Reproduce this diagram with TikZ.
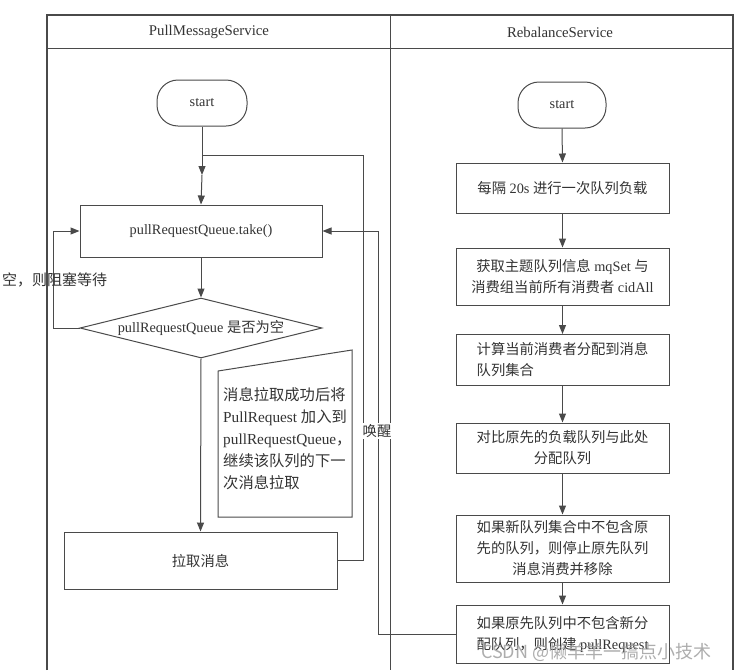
\documentclass[tikz,border=0pt]{standalone}
\usepackage{fontspec}
\setmainfont{Liberation Serif}
\newfontfamily\cjkf{Noto Sans CJK SC}
\usetikzlibrary{arrows.meta,shapes.geometric,calc}
\newcommand\zhc[1]{{\cjkf #1}}
\definecolor{lc}{HTML}{4A4A4A}
\definecolor{tx}{HTML}{333333}
\begin{document}
\begin{tikzpicture}[x=1pt,y=-1pt,
  every node/.style={text=tx, font=\fontsize{14.3}{21}\selectfont},
  plain/.style={draw=lc, line width=1pt},
  box/.style={plain, inner sep=0pt, align=center},
  startbox/.style={box, rounded corners=21pt, minimum width=90pt, minimum height=46pt},
  rbox/.style={box, minimum width=213pt},
  arr/.style={plain, -{Triangle[length=9pt,width=7pt]}}]
\useasboundingbox (0,0) rectangle (739,670);
% frame
\draw[plain, line width=1.2pt] (47,670) -- (47,15) -- (733,15) -- (733,670);
\draw[plain] (47,48) -- (733,48);
\draw[plain] (390,15) -- (390,670);
\node[font=\fontsize{14.8}{18}\selectfont] (h1) at (209,32) {PullMessageService};
\node[font=\fontsize{14.8}{18}\selectfont] (h2) at (560,32) {RebalanceService};
% left column
\node[startbox] (sL) at (202,103) {start};
\node[box, minimum width=242pt, minimum height=52pt] (take) at (201,231) {pullRequestQueue.take()};
\node[box, diamond, aspect=4, minimum width=242pt, minimum height=60pt] (dia) at (201,328) {pullRequestQueue \zhc{是否为空}};
\node[box, minimum width=273pt, minimum height=57pt] (pull) at (200.5,560.5) {\zhc{拉取消息}};
% note
\draw[plain] (218,371) -- (352,350) -- (352,517) -- (218,517) -- cycle;
\node[anchor=north west, align=left, inner sep=0pt, font=\fontsize{15.3}{22}\selectfont] (notetxt) at (223,387)
  {\zhc{消息拉取成功后将}\\PullRequest \zhc{加入到}\\pullRequestQueue\zhc{，}\\\zhc{继续该队列的下一}\\\zhc{次消息拉取}};
% left connectors
\coordinate (j1) at (202,155);
\coordinate (m1) at (202,175);
\coordinate (r1) at (363,155);
\coordinate (l1) at (53,231);
\coordinate (w1) at (378,231);
\draw[arr] (sL.south) -- (m1);
\draw[arr] (m1) -- (take.north);
\draw[plain] (pull.east) -| (r1) -- (j1);
\draw[arr] (take.south) -- (dia.north);
\draw[arr] (dia.south) -- (pull.north);
\draw[arr] (dia.west) -| (l1) -- (take.west);
\node[anchor=west, inner sep=0pt, font=\fontsize{15}{18}\selectfont] (emp) at (2,280) {\zhc{空，则阻塞等待}};
% right column
\node[startbox, minimum width=88pt] (sR) at (562,105) {start};
\node[rbox, minimum height=50pt] (b1) at (562.5,188) {\zhc{每隔} 20s \zhc{进行一次队列负载}};
\node[rbox, minimum height=57pt] (b2) at (562.5,276.5) {\zhc{获取主题队列信息} mqSet \zhc{与}\\\zhc{消费组当前所有消费者} cidAll};
\node[rbox, minimum height=51pt, align=left] (b3) at (562.5,360) {\zhc{计算当前消费者分配到消息}\\\zhc{队列集合}};
\node[rbox, minimum height=50pt] (b4) at (562.5,448) {\zhc{对比原先的负载队列与此处}\\\zhc{分配队列}};
\node[rbox, minimum height=67pt] (b5) at (562.5,548.5) {\zhc{如果新队列集合中不包含原}\\\zhc{先的队列，则停止原先队列}\\\zhc{消息消费并移除}};
\node[rbox, minimum height=58pt] (b6) at (562.5,634) {\zhc{如果原先队列中不包含新分}\\\zhc{配队列，则创建} pullRequest};
\draw[arr] (sR.south) -- (b1.north);
\draw[arr] (b1.south) -- (b2.north);
\draw[arr] (b2.south) -- (b3.north);
\draw[arr] (b3.south) -- (b4.north);
\draw[arr] (b4.south) -- (b5.north);
\draw[arr] (b5.south) -- (b6.north);
% wake-up connector
\draw[arr] (b6.west) -| (w1) -- (take.east);
\node[fill=white, inner sep=1pt] (wake) at (377,431) {\zhc{唤醒}};
% watermark
\node[anchor=west, inner sep=0pt, text=gray!75, opacity=0.85, font=\cjkf\fontsize{18}{18}\selectfont] (wm) at (481,652) {CSDN @懒羊羊一搞点小技术};
\end{tikzpicture}
\end{document}
